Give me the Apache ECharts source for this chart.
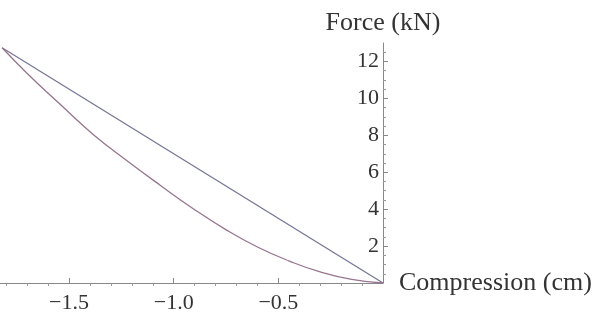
<!DOCTYPE html>
<html>
<head>
<meta charset="utf-8">
<script src="https://cdn.jsdelivr.net/npm/echarts@6/dist/echarts.min.js"></script>
<style>html,body{margin:0;padding:0;background:#fff}#c{width:597px;height:314px}</style>
</head>
<body>
<div id="c"></div>
<script>
// Data
const linearX = [-1.82, 0];
const linearF = [12.74, 0];
const curveX = [-1.82, -1.70, -1.54, -1.385, -1.22, -1.065, -0.91, -0.745, -0.60, -0.45, -0.30, -0.15, 0];
const curveF = [12.74, 11.35, 9.65, 8.05, 6.6, 5.3, 4.05, 2.85, 1.95, 1.2, 0.6, 0.2, 0];
const xTicks = [-1.5, -1.0, -0.5];
const xTickLabels = ['\u22121.5', '\u22121.0', '\u22120.5'];
const yTicks = [2, 4, 6, 8, 10, 12];
const yTickLabels = ['2', '4', '6', '8', '10', '12'];
const xMinorTicks = [-1.8, -1.7, -1.6, -1.4, -1.3, -1.2, -1.1, -0.9, -0.8, -0.7, -0.6, -0.4, -0.3, -0.2, -0.1];
const yMinorTicks = [0.5, 1, 1.5, 2.5, 3, 3.5, 4.5, 5, 5.5, 6.5, 7, 7.5, 8.5, 9, 9.5, 10.5, 11, 11.5, 12.5];
const xMin = -1.83, xMax = 0, yMin = 0, yMax = 13;

const font = '"Liberation Serif", "DejaVu Serif", serif';
const zip = (a, b) => a.map((v, i) => [v, b[i]]);

const chart = echarts.init(document.getElementById('c'), null, {renderer: 'canvas'});
chart.setOption({
  animation: false,
  backgroundColor: '#fff',
  grid: {left: 0, right: 214, top: 43, bottom: 29, containLabel: false},
  xAxis: [{
    type: 'value', min: xMin, max: xMax,
    name: 'Compression (cm)', nameLocation: 'end', nameGap: 16,
    nameTextStyle: {fontFamily: font, fontSize: 26, color: '#333', verticalAlign: 'middle', align: 'left'},
    axisLine: {show: true, lineStyle: {color: '#888', width: 1}},
    axisTick: {show: true, inside: true, length: 5, customValues: xTicks, lineStyle: {color: '#888'}},
    axisLabel: {show: true, customValues: xTicks, margin: 9, fontFamily: font, fontSize: 22, color: '#333',
      formatter: v => xTickLabels[xTicks.findIndex(t => Math.abs(t - v) < 1e-9)] || ''},
    splitLine: {show: false}
  }, {
    type: 'value', min: xMin, max: xMax, gridIndex: 0,
    axisLine: {show: false},
    axisTick: {show: true, inside: true, length: 3, customValues: xMinorTicks, lineStyle: {color: '#999'}},
    axisLabel: {show: false}, splitLine: {show: false}
  }],
  yAxis: [{
    type: 'value', min: yMin, max: yMax, position: 'right',
    name: 'Force (kN)', nameLocation: 'end', nameGap: 20,
    nameTextStyle: {fontFamily: font, fontSize: 26, color: '#333', verticalAlign: 'middle', align: 'center'},
    axisLine: {show: true, lineStyle: {color: '#888', width: 1}},
    axisTick: {show: true, inside: false, length: 5, customValues: yTicks, lineStyle: {color: '#888'}},
    axisLabel: {show: true, inside: true, customValues: yTicks, margin: 4, fontFamily: font, fontSize: 22, color: '#333',
      formatter: v => yTickLabels[yTicks.findIndex(t => Math.abs(t - v) < 1e-9)] || ''},
    splitLine: {show: false}
  }, {
    type: 'value', min: yMin, max: yMax, position: 'right',
    axisLine: {show: false},
    axisTick: {show: true, inside: false, length: 3, customValues: yMinorTicks, lineStyle: {color: '#999'}},
    axisLabel: {show: false}, splitLine: {show: false}
  }],
  series: [{
    type: 'line', data: zip(linearX, linearF), showSymbol: false, symbol: 'none',
    lineStyle: {color: '#76769a', width: 1.3}
  }, {
    type: 'line', data: zip(curveX, curveF), showSymbol: false, symbol: 'none', smooth: true,
    lineStyle: {color: '#98748e', width: 1.3}
  }]
});
</script>
</body>
</html>
